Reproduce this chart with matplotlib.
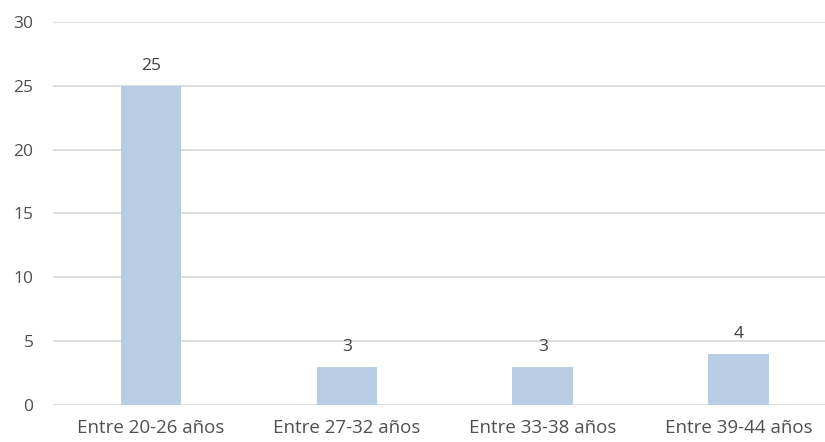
import matplotlib
matplotlib.use("Agg")
import matplotlib.pyplot as plt

categories = ["Entre 20-26 años", "Entre 27-32 años", "Entre 33-38 años", "Entre 39-44 años"]
values = [25, 3, 3, 4]
yticks = [0, 5, 10, 15, 20, 25, 30]

plt.rcParams['font.family'] = ['Open Sans', 'DejaVu Sans']
fig = plt.figure(figsize=(8.25, 4.42), dpi=100)
ax = fig.add_axes([53/825, 1-405/442, 1-53/825, (405-22)/442])

x = list(range(len(categories)))
bars = ax.bar(x, values, width=0.31, color="#B8CCE4", zorder=3)
for xi, v in zip(x, values):
    ax.text(xi, v + 0.9, str(v), ha="center", va="bottom", fontsize=12.5, color="#404040")

ax.set_ylim(0, 30)
ax.set_xlim(-0.5, 3.44)
ax.set_yticks(yticks)
ax.set_xticks(x)
ax.set_xticklabels(categories)
ax.yaxis.grid(True, color="#D9D9D9", linewidth=1.2, zorder=0)
ax.set_axisbelow(True)
for s in ax.spines.values():
    s.set_visible(False)
ax.tick_params(axis="y", length=0, labelsize=12.5, colors="#505050", pad=14)
ax.tick_params(axis="x", length=0, labelsize=13.5, colors="#505050", pad=10)
fig.savefig("out.png", dpi=100)
